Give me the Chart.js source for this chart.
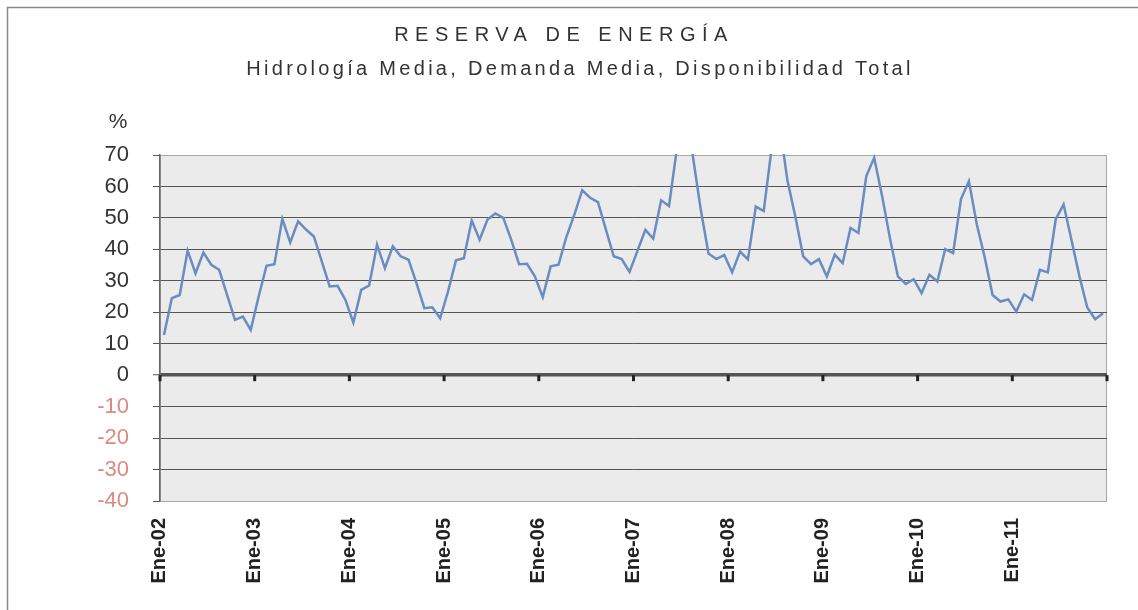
<!DOCTYPE html>
<html>
<head>
<meta charset="utf-8">
<script src="https://cdn.jsdelivr.net/npm/chart.js@4"></script>
<style>
  html, body { margin: 0; padding: 0; background: #ffffff; }
  #wrap { width: 1138px; height: 610px; position: relative; }
</style>
</head>
<body>
<div id="wrap"><canvas id="reservaChart" width="1138" height="610"></canvas></div>
<script>
// Texts
const titulo = 'RESERVA DE ENERGÍA';
const subtitulo = 'Hidrología Media, Demanda Media, Disponibilidad Total';
const unidad = '%';

// Categories (monthly, Ene-02 .. Dic-11)
const meses = ['Ene', 'Feb', 'Mar', 'Abr', 'May', 'Jun', 'Jul', 'Ago', 'Sep', 'Oct', 'Nov', 'Dic'];
const anios = ['02', '03', '04', '05', '06', '07', '08', '09', '10', '11'];

// Reserva de energía (%) per year
const r2002 = [12.8, 24.5, 25.5, 39.6, 32.4, 39.0, 35.1, 33.5, 25.5, 17.6, 18.6, 14.4];
const r2003 = [25.0, 34.8, 35.3, 49.7, 42.2, 48.9, 46.3, 44.1, 36.2, 28.2, 28.4, 23.9];
const r2004 = [16.7, 27.1, 28.5, 41.5, 34.0, 41.0, 37.8, 36.7, 29.3, 21.3, 21.6, 18.1];
const r2005 = [26.6, 36.5, 37.2, 49.2, 43.1, 49.5, 51.4, 50.0, 43.1, 35.3, 35.4, 31.4];
const r2006 = [24.8, 34.6, 35.1, 44.0, 51.0, 58.8, 56.4, 55.0, 46.3, 37.8, 36.9, 32.8];
const r2007 = [39.5, 46.2, 43.4, 55.6, 53.8, 72.0, 82.0, 70.0, 53.0, 38.7, 36.9, 38.2];
const r2008 = [32.7, 39.3, 36.8, 53.6, 52.2, 72.0, 80.0, 62.0, 50.5, 37.8, 35.3, 36.9];
const r2009 = [31.4, 38.3, 35.6, 46.8, 45.2, 63.3, 69.1, 57.0, 43.5, 31.4, 29.0, 30.5];
const r2010 = [26.1, 31.9, 29.8, 40.1, 38.8, 56.0, 61.7, 48.0, 37.5, 25.5, 23.4, 24.1];
const r2011 = [20.2, 25.7, 23.9, 33.5, 32.7, 49.5, 54.3, 43.0, 31.5, 21.5, 17.8, 19.7];

// Axis range
const yMin = -40;
const yMax = 70;
const yStep = 10;

const etiquetas = [];
anios.forEach(a => meses.forEach(m => etiquetas.push(m + '-' + a)));
const reserva = [].concat(r2002, r2003, r2004, r2005, r2006, r2007, r2008, r2009, r2010, r2011);

const fontFam = '"Liberation Sans", Arial, Helvetica, sans-serif';

// Frame, plot background, year tick marks on the zero line and headings
const decoPlugin = {
    id: 'deco',
    beforeDraw(chart) {
        const { ctx, chartArea: a } = chart;
        ctx.save();
        ctx.fillStyle = '#ffffff';
        ctx.fillRect(0, 0, chart.width, chart.height);
        // outer frame (only left and top edges visible)
        ctx.strokeStyle = '#8a8a8a';
        ctx.lineWidth = 1.5;
        ctx.strokeRect(7.5, 7.5, chart.width + 20, chart.height + 20);
        // plot area
        ctx.fillStyle = '#ebebeb';
        ctx.fillRect(a.left, a.top, a.right - a.left, a.bottom - a.top);
        ctx.strokeStyle = '#a8a8a8';
        ctx.lineWidth = 1;
        ctx.strokeRect(a.left + 0.5, a.top + 0.5, a.right - a.left - 1, a.bottom - a.top);
        ctx.restore();
    },
    afterDatasetsDraw(chart) {
        const { ctx, chartArea: a, scales } = chart;
        const y0 = scales.y.getPixelForValue(0);
        const n = etiquetas.length;
        ctx.save();
        ctx.fillStyle = '#222';
        for (let i = 0; i <= n; i += 12) {
            const x = a.left + (a.right - a.left) * i / n;
            ctx.fillRect(x - 1.5, y0, 3, 6);
        }
        ctx.restore();
    },
    afterDraw(chart) {
        const { ctx } = chart;
        ctx.save();
        ctx.fillStyle = '#333';
        ctx.textAlign = 'center';
        ctx.textBaseline = 'middle';
        ctx.font = '20px ' + fontFam;
        ctx.letterSpacing = '6.5px';
        ctx.fillText(titulo, 564, 35);
        ctx.font = '20px ' + fontFam;
        ctx.letterSpacing = '3.3px';
        ctx.fillText(subtitulo, 580, 69);
        ctx.letterSpacing = '0px';
        ctx.font = '21px ' + fontFam;
        ctx.fillText(unidad, 118, 122);
        ctx.restore();
    }
};

const ctx = document.getElementById('reservaChart').getContext('2d');
new Chart(ctx, {
    type: 'line',
    data: {
        labels: etiquetas,
        datasets: [{
            label: 'Reserva',
            data: reserva,
            borderColor: '#6a8cc0',
            borderWidth: 2.5,
            pointRadius: 0,
            tension: 0,
            fill: false,
            clip: 1
        }]
    },
    options: {
        responsive: false,
        animation: false,
        layout: { padding: { top: 155, right: 31, bottom: 0, left: 0 } },
        plugins: {
            legend: { display: false },
            tooltip: { enabled: false }
        },
        scales: {
            x: {
                type: 'category',
                offset: true,
                grid: { display: false, drawTicks: false },
                border: { display: false },
                afterFit: s => { s.height = 109; s.paddingLeft = 0; s.paddingRight = 0; },
                ticks: {
                    autoSkip: false,
                    maxRotation: 90,
                    minRotation: 90,
                    padding: 17,
                    labelOffset: -4,
                    color: '#222',
                    font: { family: fontFam, size: 20, weight: 'bold' },
                    callback: (v, i) => (i % 12 === 0 ? etiquetas[i] : '')
                }
            },
            y: {
                min: yMin,
                max: yMax,
                afterFit: s => { s.width = 160; s.paddingTop = 0; s.paddingBottom = 0; },
                border: { display: true, color: '#666', width: 1.5 },
                grid: {
                    color: c => (c.tick && (c.tick.value === yMax || c.tick.value === yMin)) ? '#a8a8a8' : '#555',
                    lineWidth: c => (c.tick && c.tick.value === 0) ? 3.5 : 1,
                    tickColor: '#555',
                    tickWidth: 1,
                    tickLength: 7,
                    drawTicks: true
                },
                ticks: {
                    stepSize: yStep,
                    padding: 24,
                    color: c => (c.tick.value < 0 ? '#dc8a80' : '#333'),
                    font: { family: fontFam, size: 22 }
                }
            }
        }
    },
    plugins: [decoPlugin]
});
</script>
</body>
</html>
